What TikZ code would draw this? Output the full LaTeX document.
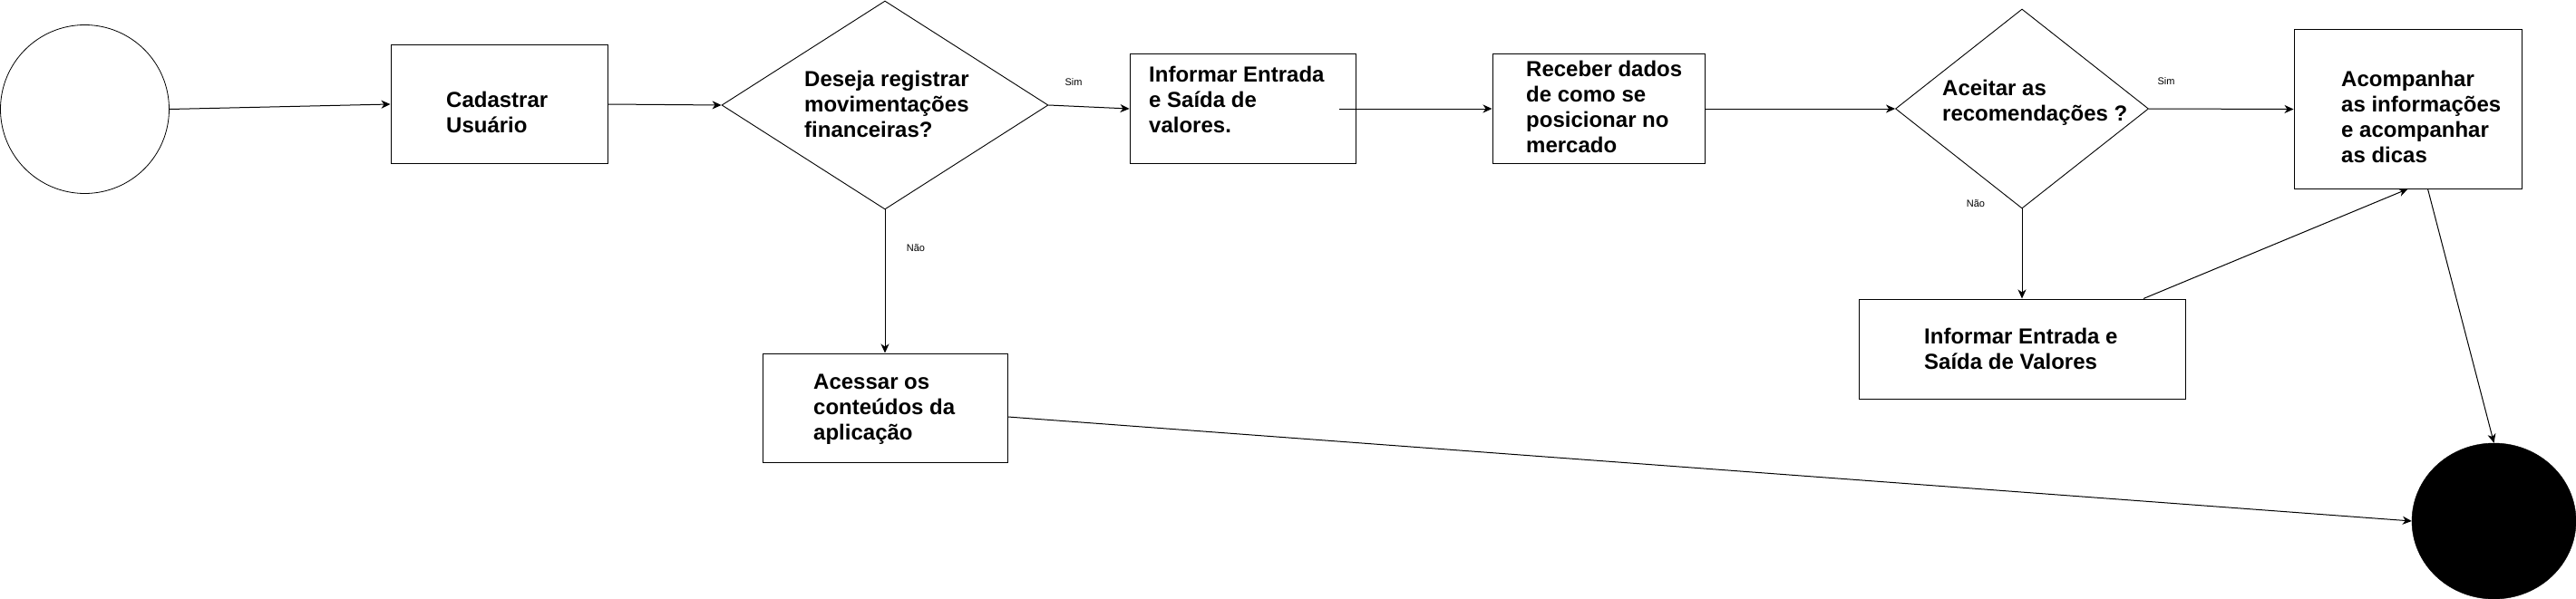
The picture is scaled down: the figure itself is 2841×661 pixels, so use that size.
\documentclass[tikz,border=0pt]{standalone}
\usepackage{fontspec}
\setmainfont{Liberation Sans}
\usetikzlibrary{shapes.geometric,arrows.meta,calc}
\newcommand\firstln{\rule{0pt}{20pt}}
\tikzset{
  box/.style={draw, line width=1pt, rectangle, inner sep=0pt},
  dec/.style={draw, line width=0.9pt, diamond, inner sep=0pt},
  txt/.style={anchor=north west, align=left, inner sep=0pt, font=\fontsize{24}{28.2}\selectfont\bfseries},
  lbl/.style={inner sep=0pt, font=\fontsize{11}{13}\selectfont},
  arr/.style={line width=1pt, -{Stealth[length=10pt,width=9pt,inset=3pt]}},
}
\begin{document}
\begin{tikzpicture}[x=1pt,y=-1pt]
\useasboundingbox (0,0) rectangle (2841,661);
% shapes
\node[draw, line width=0.8pt, circle, minimum size=186pt, inner sep=0pt] (start) at (93.5,120.5) {};
\node[box, minimum width=239pt, minimum height=130pt] (cad) at (550.5,115) {};
\node[dec, minimum width=360pt, minimum height=230pt] (d1) at (976,116) {};
\node[box, minimum width=249pt, minimum height=120pt] (inf1) at (1370.5,120) {};
\node[box, minimum width=234pt, minimum height=120pt] (rec) at (1763,120) {};
\node[dec, minimum width=279pt, minimum height=220pt] (d2) at (2230,120) {};
\node[box, minimum width=251pt, minimum height=175pt] (aco) at (2655.5,120.5) {};
\node[box, minimum width=270pt, minimum height=120pt] (acs) at (976,450) {};
\node[box, minimum width=360pt, minimum height=110pt] (inf2) at (2230,385) {};
\node[draw, fill=black, ellipse, minimum width=181pt, minimum height=172pt, inner sep=0pt] (end) at (2750.5,575) {};
% texts (anchored 20pt above the first baseline)
\node[txt] (tcad) at (492,98.5) {\firstln Cadastrar\\Usuário};
\node[txt] (td1) at (887,75) {\firstln Deseja registrar\\movimentações\\financeiras?};
\node[txt] (tinf1) at (1267,70) {\firstln Informar Entrada\\e Saída de\\valores.};
\node[txt] (trec) at (1683,64) {\firstln Receber dados\\de como se\\posicionar no\\mercado};
\node[txt] (td2) at (2142,85) {\firstln Aceitar as\\recomendações ?};
\node[txt] (taco) at (2582,75) {\firstln Acompanhar\\as informações\\e acompanhar\\as dicas};
\node[txt] (tacs) at (897,409) {\firstln Acessar os\\conteúdos da\\aplicação};
\node[txt] (tinf2) at (2122,359) {\firstln Informar Entrada e\\Saída de Valores};
% labels
\node[lbl] (sim1) at (1184,91) {Sim};
\node[lbl] (sim2) at (2389,90) {Sim};
\node[lbl] (nao1) at (1010,274) {Não};
\node[lbl] (nao2) at (2179,225) {Não};
% connectors
\draw[arr] (start.east) -- (cad.west);
\draw[arr] (cad.east) -- (d1.west);
\draw[arr] (d1.east) -- (inf1.west);
\draw[arr] ([xshift=-19pt]inf1.east) -- (rec.west);
\draw[arr] (rec.east) -- (d2.west);
\draw[arr] (d2.east) -- (aco.west);
\draw[arr] (d2.south) -- (inf2.north);
\draw[arr] (d1.south) -- (acs.north);
\draw[arr] ([xshift=134pt]inf2.north) -- (aco.south);
\draw[arr] ([xshift=22pt]aco.south) -- (end.north);
\draw[arr] ([yshift=-10pt]acs.east) -- (end.west);
\end{tikzpicture}
\end{document}
